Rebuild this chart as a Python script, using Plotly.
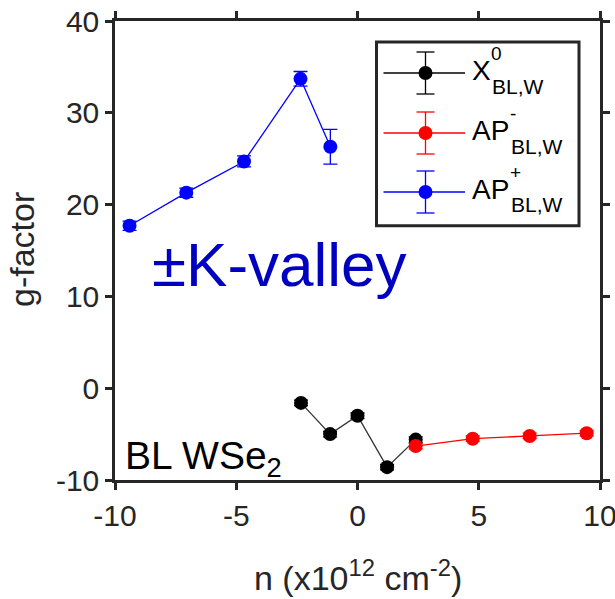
import plotly.graph_objects as go

# ---- data ----
x0_n = [-2.33, -1.13, 0.0, 1.22, 2.4]
x0_g = [-1.6, -5.0, -3.0, -8.6, -5.6]
x0_err = [0.3, 0.3, 0.3, 0.3, 0.3]

apm_n = [2.4, 4.75, 7.1, 9.45]
apm_g = [-6.3, -5.5, -5.2, -4.9]
apm_err = [0.3, 0.3, 0.3, 0.3]

app_n = [-9.4, -7.06, -4.68, -2.35, -1.12]
app_g = [17.7, 21.3, 24.7, 33.7, 26.3]
app_err = [0.5, 0.5, 0.6, 0.8, 1.9]

x_ticks = [-10, -5, 0, 5, 10]
y_ticks = [-10, 0, 10, 20, 30, 40]

FONT = "Liberation Sans, Arial, sans-serif"
AX = "#262626"

# plot frame in pixels
L, R, T, B = 115, 600, 21, 480

series = [
    (x0_n, x0_g, x0_err, "#000000", "#333333"),
    (apm_n, apm_g, apm_err, "#ff0000", "#ff0000"),
    (app_n, app_g, app_err, "#0000ff", "#0000ff"),
]

fig = go.Figure()
for xs, ys, es, mc, lc in series:
    fig.add_trace(go.Scatter(
        x=xs, y=ys, mode="lines+markers",
        line=dict(color=lc, width=1.3),
        marker=dict(color=mc, size=14),
        error_y=dict(type="data", array=es, visible=True, color=mc, thickness=1.3, width=7),
        showlegend=False, cliponaxis=False,
    ))


def px_x(p):
    return (p - L) / (R - L)


def px_y(p):
    return (B - p) / (B - T)


# ---- custom legend (MATLAB-style, with error-bar symbols) ----
shapes = [dict(type="rect", xref="paper", yref="paper",
               x0=px_x(376.5), x1=px_x(579), y0=px_y(225.7), y1=px_y(42),
               line=dict(color=AX, width=3), fillcolor="white", layer="above")]
annos = []
rows = [(73, "#000000", "X", "0"),
        (133, "#ff0000", "AP", "-"),
        (192, "#0000ff", "AP", "+")]
for ry, mc, main, sup in rows:
    yy = px_y(ry)
    eh = 21
    shapes.append(dict(type="line", xref="paper", yref="paper", x0=px_x(383.5), x1=px_x(465),
                       y0=yy, y1=yy, line=dict(color=mc, width=1.3), layer="above"))
    shapes.append(dict(type="line", xref="paper", yref="paper", x0=px_x(425.5), x1=px_x(425.5),
                       y0=px_y(ry - eh), y1=px_y(ry + eh), line=dict(color=mc, width=1.3), layer="above"))
    for d in (-eh, eh):
        shapes.append(dict(type="line", xref="paper", yref="paper", x0=px_x(416.5), x1=px_x(434.5),
                           y0=px_y(ry + d), y1=px_y(ry + d), line=dict(color=mc, width=1.3), layer="above"))
    shapes.append(dict(type="circle", xref="paper", yref="paper", xsizemode="pixel", ysizemode="pixel",
                       xanchor=px_x(425.5), yanchor=yy, x0=-7, x1=7, y0=-7, y1=7,
                       fillcolor=mc, line=dict(color=mc, width=0), layer="above"))
    main_w = 18 if main == "X" else 37
    annos.append(dict(xref="paper", yref="paper", x=px_x(471), y=px_y(ry - 3), text=main,
                      showarrow=False, xanchor="left", yanchor="middle", borderpad=0,
                      font=dict(family=FONT, size=28, color="#000000")))
    annos.append(dict(xref="paper", yref="paper", x=px_x(472 + main_w), y=px_y(ry - 20), text=sup,
                      showarrow=False, xanchor="left", yanchor="middle", borderpad=0,
                      font=dict(family=FONT, size=19, color="#000000")))
    annos.append(dict(xref="paper", yref="paper", x=px_x(473 + main_w), y=px_y(ry + 13), text="BL,W",
                      showarrow=False, xanchor="left", yanchor="middle", borderpad=0,
                      font=dict(family=FONT, size=21, color="#000000")))

annos.append(dict(xref="paper", yref="paper", x=px_x(150), y=px_y(264), text="±K-valley",
                  showarrow=False, xanchor="left", yanchor="middle",
                  font=dict(family=FONT, size=62, color="#0000c0")))
annos.append(dict(xref="paper", yref="paper", x=px_x(123), y=px_y(458), text="BL WSe<sub>2</sub>",
                  showarrow=False, xanchor="left", yanchor="middle",
                  font=dict(family=FONT, size=39, color="#000000")))
# axis titles placed as annotations for exact MATLAB-like positions
annos.append(dict(xref="paper", yref="paper", x=px_x(358), y=px_y(575),
                  text="n (x10<sup>12</sup> cm<sup>-2</sup>)", showarrow=False,
                  xanchor="center", yanchor="middle",
                  font=dict(family=FONT, size=34, color=AX)))
annos.append(dict(xref="paper", yref="paper", x=px_x(22), y=px_y(250), text="g-factor",
                  showarrow=False, textangle=-90, xanchor="center", yanchor="middle",
                  font=dict(family=FONT, size=34, color=AX)))

fig.update_layout(
    width=615, height=599,
    margin=dict(l=L, r=615 - R, t=T, b=599 - B, autoexpand=False),
    paper_bgcolor="white", plot_bgcolor="white",
    font=dict(family=FONT, color=AX),
    shapes=shapes, annotations=annos,
)
axis_common = dict(showline=True, linewidth=2.5, linecolor=AX, mirror="ticks",
                   ticks="outside", ticklen=7, tickwidth=2.5, tickcolor=AX,
                   showgrid=False, zeroline=False, automargin=False,
                   ticklabeloverflow="allow",
                   tickfont=dict(family=FONT, size=30, color=AX))
fig.update_xaxes(range=[-10, 10], tickvals=x_ticks, ticktext=[str(v) for v in x_ticks],
                 **axis_common)
fig.update_yaxes(range=[-10, 40], tickvals=y_ticks, ticktext=[str(v) for v in y_ticks],
                 **axis_common)

fig.write_html("out.html", config={"displayModeBar": False},
               post_script="document.body.style.margin='0';document.body.style.overflow='hidden';")
